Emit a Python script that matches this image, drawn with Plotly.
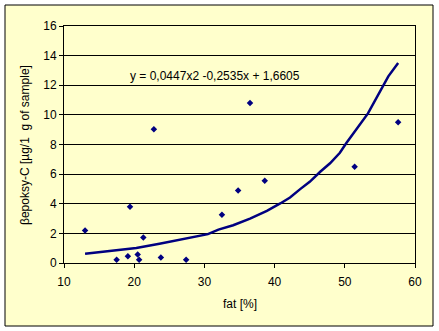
import plotly.graph_objects as go

# measured points
fat = [13.0, 17.5, 19.1, 19.4, 20.5, 20.7, 21.3, 22.8, 23.8, 27.4, 32.5, 34.8, 36.5, 38.6, 51.4, 57.6]
epoksy = [2.2, 0.22, 0.45, 3.8, 0.57, 0.22, 1.72, 9.03, 0.37, 0.22, 3.25, 4.9, 10.8, 5.55, 6.5, 9.5]

# trendline as drawn in the picture
trend_x = [13.0, 16.5, 20.3, 23.6, 27.4, 30.5, 32.0, 34.1, 36.5, 38.9, 40.8, 42.2, 43.6, 45.0,
           46.5, 47.9, 49.3, 50.2, 53.3, 55.0, 56.2, 57.6]
trend_y = [0.62, 0.81, 1.01, 1.3, 1.65, 1.95, 2.25, 2.55, 3.0, 3.52, 4.02, 4.42, 4.97, 5.48,
           6.16, 6.73, 7.44, 8.08, 10.1, 11.6, 12.6, 13.5]

equation = "y = 0,0447x2 -0,2535x + 1,6605"
x_title = "fat [%]"
y_title = "βepoksy-C [µg/1  g of sample]"
x_ticks = [10, 20, 30, 40, 50, 60]
y_ticks = [0, 2, 4, 6, 8, 10, 12, 14, 16]

navy = "#000080"
bg = "#FFFFCC"
font = "Liberation Sans, Arial, sans-serif"

fig = go.Figure()
fig.add_trace(go.Scatter(x=trend_x, y=trend_y, mode="lines",
                         line=dict(color=navy, width=2.5),
                         hoverinfo="skip", showlegend=False))
fig.add_trace(go.Scatter(x=fat, y=epoksy, mode="markers",
                         marker=dict(symbol="diamond", size=5, color=navy),
                         showlegend=False))

L, R, T, B = 64, 24, 26, 68
W, H = 439, 331
pw = W - L - R
ph = H - T - B


def px(xp):
    return (xp - L) / pw


def py(yp):
    return ((H - B) - yp) / ph


fig.add_shape(type="rect", xref="paper", yref="paper", layer="below",
              x0=px(5), x1=px(433), y0=py(326), y1=py(5),
              fillcolor=bg, line=dict(color="black", width=1))

fig.add_annotation(xref="paper", yref="paper", x=px(128), y=py(76), text=equation,
                   showarrow=False, xanchor="left", yanchor="middle",
                   font=dict(family=font, size=12, color="black"))
fig.add_annotation(xref="paper", yref="paper", x=px(239.5), y=py(304), text=x_title,
                   showarrow=False, xanchor="center", yanchor="middle",
                   font=dict(family=font, size=12, color="black"))
fig.add_annotation(xref="paper", yref="paper", x=px(25), y=py(145), text=y_title,
                   showarrow=False, xanchor="center", yanchor="middle", textangle=-90,
                   font=dict(family=font, size=12, color="black"))

fig.update_layout(
    width=W, height=H,
    margin=dict(l=L, r=R, t=T, b=B),
    paper_bgcolor="white",
    plot_bgcolor=bg,
    font=dict(family=font, size=12, color="black"),
    xaxis=dict(range=[10, 60], tickvals=x_ticks, showgrid=False, zeroline=False,
               showline=True, linecolor="black", linewidth=1, mirror=True,
               ticks="outside", ticklen=4, tickcolor="black", ticklabelstandoff=4),
    yaxis=dict(range=[0, 16], tickvals=y_ticks, showgrid=True, gridcolor="black", gridwidth=1,
               zeroline=False, showline=True, linecolor="black", linewidth=1, mirror=True,
               ticks="outside", ticklen=4, tickcolor="black"),
)

fig.write_html("out.html")
